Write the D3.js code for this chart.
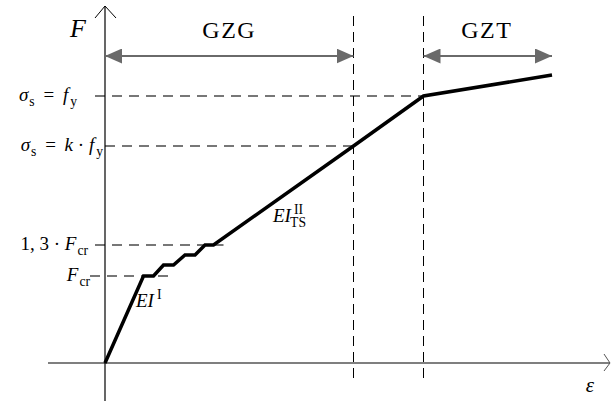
<!DOCTYPE html>
<html>
<head>
<meta charset="utf-8">
<script src="https://cdn.jsdelivr.net/npm/d3@7"></script>
<style>
  body { margin: 0; background: #fff; }
  text { font-family: "Liberation Serif", "DejaVu Serif", serif; fill: #000; white-space: pre; }
</style>
</head>
<body>
<svg id="chart" width="611" height="401"></svg>
<script>
// curve points (strain in arbitrary units, force in arbitrary units)
var strain = [0, 0.77, 0.97, 1.17, 1.37, 1.6, 1.8, 2.0, 2.17, 4.97, 6.37, 8.94];
var force  = [0, 1.74, 1.74, 1.96, 1.96, 2.16, 2.16, 2.36, 2.36, 4.34, 5.34, 5.76];

// horizontal reference levels
var levelF     = [5.34, 4.34, 2.36, 1.74];
var levelStart = [-0.2, 0, -0.2, -0.3];
var levelEnd   = [6.37, 4.97, 2.37, 1.37];

// limit strains + zones
var limitStrain = [4.97, 6.37];
var zoneNames = ["GZG", "GZT"];
var zoneFrom  = [0, 6.37];
var zoneTo    = [4.97, 8.94];

var grey = "#6a6a6a";
var svg = d3.select("#chart");

var x = d3.scaleLinear().domain([-1.14, 10.12]).range([48, 611]),
    y = d3.scaleLinear().domain([0, 7.26]).range([363, 0]);

var defs = svg.append("defs");
defs.append("marker")
    .attr("id", "head")
    .attr("viewBox", "0 0 17 15")
    .attr("refX", 17).attr("refY", 7.5)
    .attr("markerWidth", 17).attr("markerHeight", 15)
    .attr("markerUnits", "userSpaceOnUse")
    .attr("orient", "auto-start-reverse")
  .append("path")
    .attr("d", "M0,0L17,7.5L0,15Z")
    .style("fill", grey);

//Horizontal dashed levels
svg.selectAll(".level")
  .data(levelF).enter().append("line")
    .attr("class", "level")
    .attr("x1", function(d, i){ return x(levelStart[i]); })
    .attr("x2", function(d, i){ return x(levelEnd[i]); })
    .attr("y1", function(d){ return y(d); })
    .attr("y2", function(d){ return y(d); })
    .style("stroke", "#777")
    .style("stroke-width", 2)
    .style("stroke-dasharray", "10,7");

//Vertical limit lines
svg.selectAll(".limit")
  .data(limitStrain).enter().append("line")
    .attr("class", "limit")
    .attr("x1", function(d){ return x(d); })
    .attr("x2", function(d){ return x(d); })
    .attr("y1", y(6.94))
    .attr("y2", y(-0.42))
    .style("stroke", "#000")
    .style("stroke-width", 1)
    .style("stroke-dasharray", "10,6");

//Axes
svg.append("line")
    .attr("x1", x(-1.14)).attr("x2", x(10.1))
    .attr("y1", y(0)).attr("y2", y(0))
    .style("stroke", "#555").style("stroke-width", 1.5);
svg.append("path")
    .attr("d", "M" + (x(10.1) - 6) + "," + (y(0) - 9) + "L" + x(10.1) + "," + y(0) + "L" + (x(10.1) - 6) + "," + (y(0) + 8))
    .style("fill", "none").style("stroke", "#555");
svg.append("line")
    .attr("x1", x(0)).attr("x2", x(0))
    .attr("y1", y(7.14)).attr("y2", 401)
    .style("stroke", "#000").style("stroke-width", 1.2);
svg.append("path")
    .attr("d", "M" + (x(0) - 10) + "," + (y(7.14) + 12) + "L" + x(0) + "," + y(7.14) + "L" + (x(0) + 11) + "," + (y(7.14) + 12))
    .style("fill", "none").style("stroke", "#000");

//Zone arrows
svg.selectAll(".zone")
  .data(zoneNames).enter().append("line")
    .attr("class", "zone")
    .attr("x1", function(d, i){ return x(zoneFrom[i]); })
    .attr("x2", function(d, i){ return x(zoneTo[i]); })
    .attr("y1", y(6.14)).attr("y2", y(6.14))
    .attr("marker-start", "url(#head)")
    .attr("marker-end", "url(#head)")
    .style("stroke", grey)
    .style("stroke-width", 2);
svg.selectAll(".zoneLabel")
  .data(zoneNames).enter().append("text")
    .attr("x", function(d, i){ return x((zoneFrom[i] + zoneTo[i]) / 2) - (i ? 1 : 0); })
    .attr("y", y(6.5))
    .attr("text-anchor", "middle")
    .style("font-size", "24px")
    .style("letter-spacing", "1.5px")
    .text(function(d){ return d; });

//Curve
var line = d3.line()
  .x(function(d){ return x(d); })
  .y(function(d, i){ return y(force[i]); });
svg.append("path")
    .datum(strain)
    .attr("d", line)
    .style("fill", "none")
    .style("stroke", "#000")
    .style("stroke-width", 3.5)
    .style("stroke-linejoin", "miter");

// math label helper: parts = [text, style, dx]; style "i" italic, "r" upright, "sub", "sup"
function mathLabel(px, py, anchor, size, parts){
  var t = svg.append("text")
    .attr("x", px).attr("y", py)
    .attr("text-anchor", anchor)
    .style("font-size", size + "px");
  var shift = 0;
  parts.forEach(function(p){
    var s = t.append("tspan").text(p[0]);
    var want = 0;
    if(p[1] == "i") s.style("font-style", "italic");
    if(p[1] == "sub" || p[1] == "sup"){
      s.style("font-size", (size * 0.72) + "px");
      want = p[1] == "sub" ? size * 0.28 : -size * 0.42;
    }
    if(p[2] != null) { s.attr("dx", p[2]); }
    if(want != shift){ s.attr("dy", want - shift); shift = want; }
  });
  return t;
}

mathLabel(x(-0.56), y(5.34) + 5, "end", 19, [["σ","i"],["s","sub", 1],[" = ","r", 4],["f","i", 4],["y","sub", 2]]);
mathLabel(x(-0.04), y(4.34) + 5, "end", 19, [["σ","i"],["s","sub", 1],[" = ","r", 4],["k","i", 4],[" · ","r"],["f","i"],["y","sub", 2]]);
mathLabel(x(-0.34), y(2.36) + 5, "end", 19, [["1, 3 · ","r"],["F","i"],["cr","sub", 1]]);
mathLabel(x(-0.3), y(1.74) + 5, "end", 19, [["F","i"],["cr","sub", 1]]);
mathLabel(x(0.62), y(1.12), "start", 19, [["EI","i", 0],["I","sup", 3]]);
mathLabel(x(3.36), y(2.82), "start", 19, [["EI","i"],["II","sup", 3],["TS","sub", -13]]);

svg.append("text")
    .attr("x", x(-0.54)).attr("y", y(6.52))
    .attr("text-anchor", "middle")
    .style("font-size", "26px").style("font-style", "italic")
    .text("F");
svg.append("text")
    .attr("x", x(9.7)).attr("y", y(-0.58))
    .attr("text-anchor", "middle")
    .style("font-size", "21px").style("font-style", "italic")
    .text("ε");
</script>
</body>
</html>
